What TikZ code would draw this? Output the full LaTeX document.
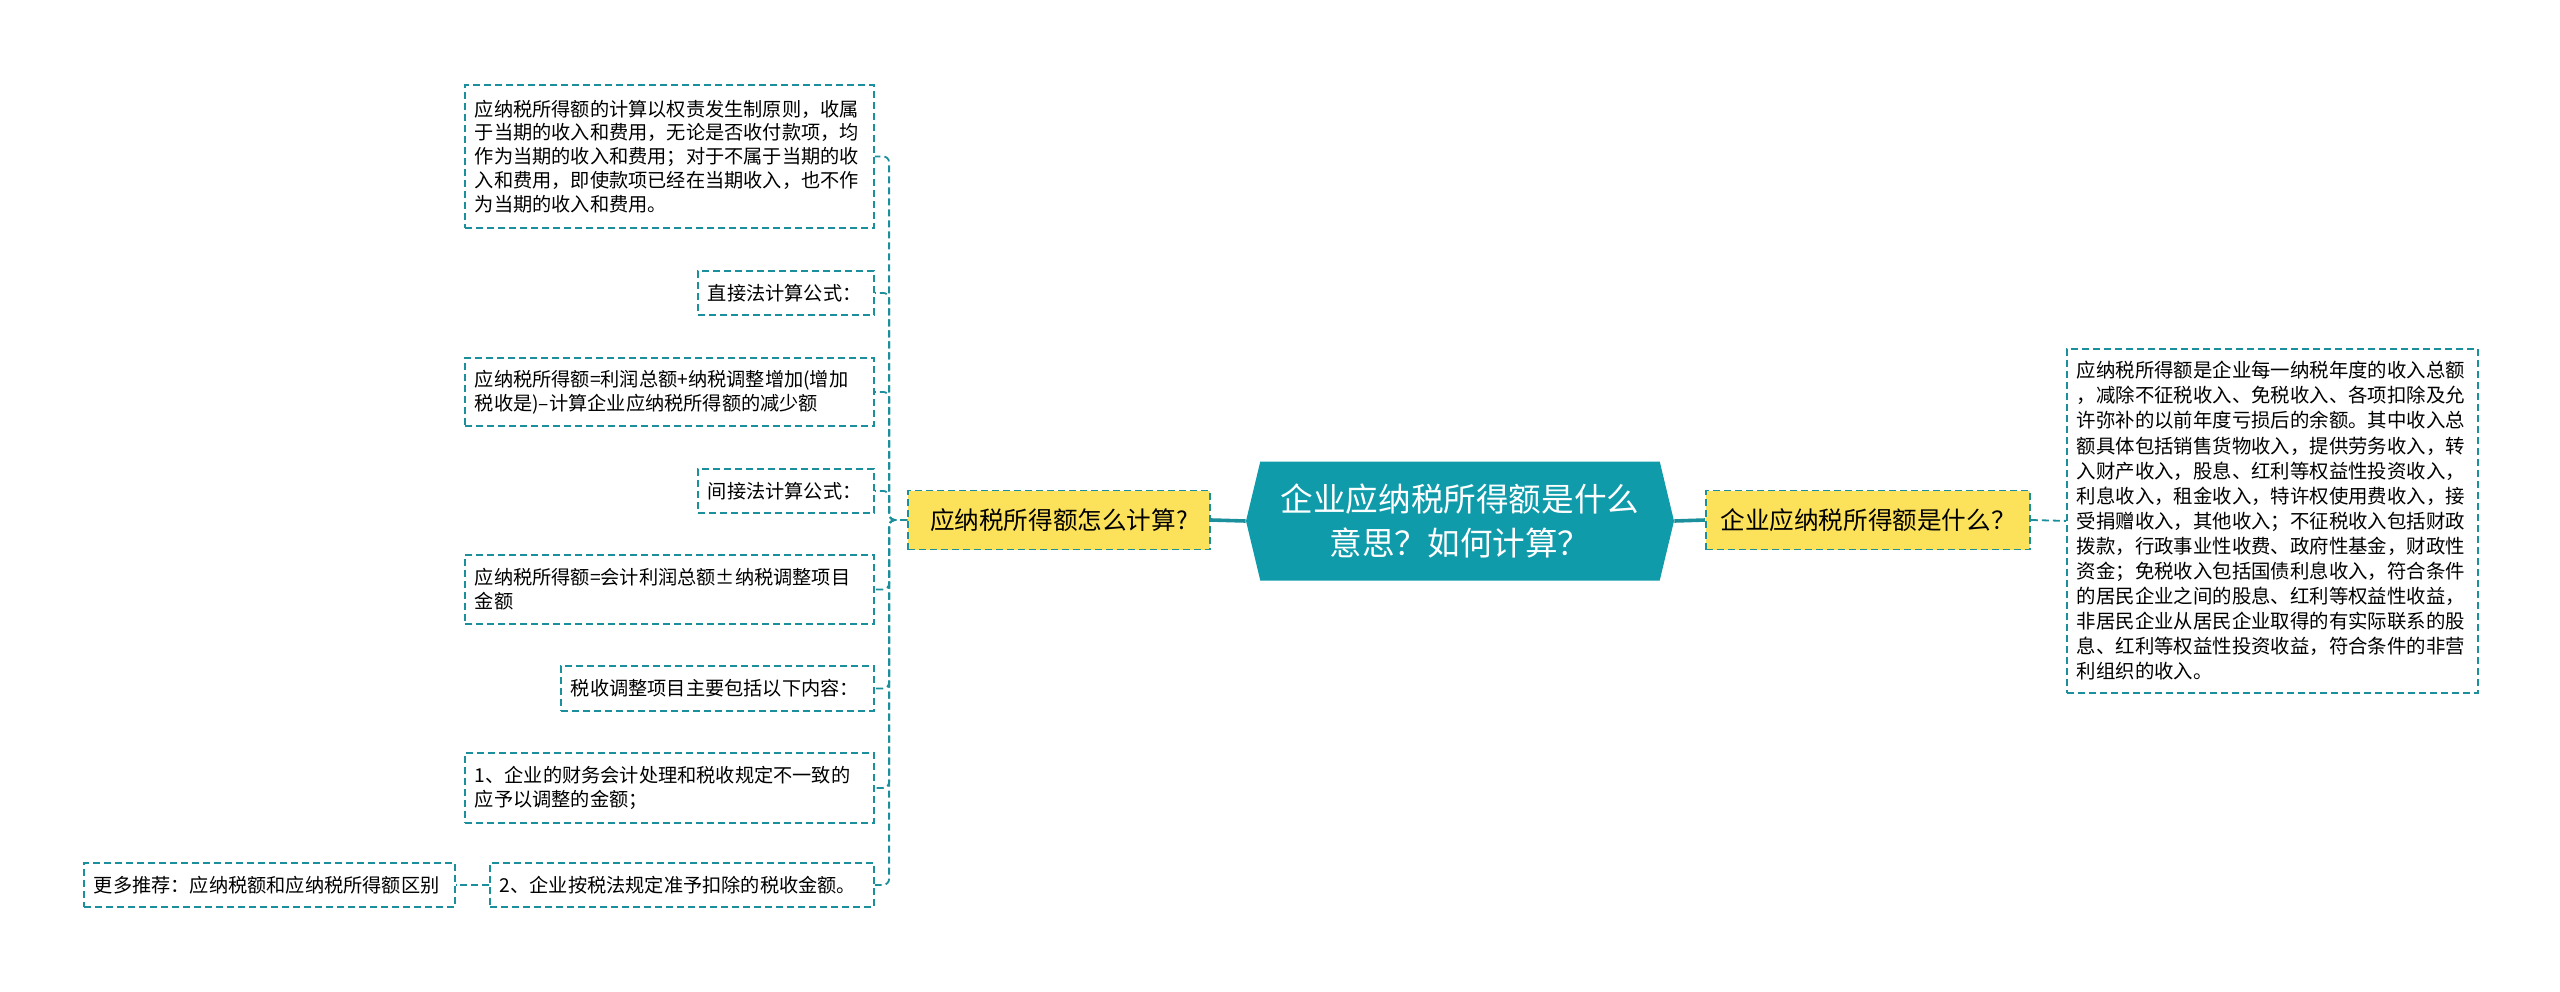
\documentclass[tikz,border=0pt]{standalone}
\usepackage{fontspec}
\setmainfont{Noto Sans CJK SC}
\usepackage{xcolor}
\usepackage{tikz}
\usetikzlibrary{shapes.symbols, positioning}
\definecolor{mapteal}{HTML}{1B8F9C}
\definecolor{rootteal}{HTML}{0F9BAA}
\definecolor{mapyellow}{HTML}{FCE15B}

\begin{document}
\begin{tikzpicture}[x=0.5pt, y=-0.5pt]
\tikzstyle{leaf} = [rectangle, draw=mapteal, dash pattern=on 3.5pt off 2pt, line width=0.9pt, anchor=north west, align=left, inner xsep=5pt, inner ysep=0pt, font=\fontsize{9.6}{11.9}\selectfont]
\tikzstyle{topic} = [rectangle, draw=mapteal, fill=mapyellow, dash pattern=on 3.5pt off 2pt, line width=0.9pt, minimum height=29.5pt, text centered, font=\fontsize{12.3}{15}\selectfont]
\tikzstyle{root} = [signal, signal to=west and east, signal pointer angle=153, fill=rootteal, text=white, minimum width=214pt, minimum height=59.5pt, align=center, font=\fontsize{16.3}{22}\selectfont]
\tikzstyle{branch} = [draw=mapteal, line width=1.8pt]
\tikzstyle{link} = [draw=mapteal, dash pattern=on 3.5pt off 2pt, line width=0.9pt, rounded corners=3pt]

\useasboundingbox (0,0) rectangle (2560,991);

\node (root) [root] at (1460,521) {企业应纳税所得额是什么\\意思？如何计算？};
\node (lq) [topic, minimum width=151pt] at (1059,520) {应纳税所得额怎么计算?};
\node (rq) [topic, minimum width=162pt] at (1868,520) {企业应纳税所得额是什么？};

\node (rb) [leaf, text width=195.5pt, minimum height=172pt, font=\fontsize{9.7}{12.55}\selectfont] at (2066,348) {应纳税所得额是企业每一纳税年度的收入总额\\，减除不征税收入、免税收入、各项扣除及允\\许弥补的以前年度亏损后的余额。其中收入总\\额具体包括销售货物收入，提供劳务收入，转\\入财产收入，股息、红利等权益性投资收入，\\利息收入，租金收入，特许权使用费收入，接\\受捐赠收入，其他收入；不征税收入包括财政\\拨款，行政事业性收费、政府性基金，财政性\\资金；免税收入包括国债利息收入，符合条件\\的居民企业之间的股息、红利等权益性收益，\\非居民企业从居民企业取得的有实际联系的股\\息、红利等权益性投资收益，符合条件的非营\\利组织的收入。};

\node (b1) [leaf, text width=194.5pt, minimum height=71.5pt] at (464,84) {应纳税所得额的计算以权责发生制原则，收属\\于当期的收入和费用，无论是否收付款项，均\\作为当期的收入和费用；对于不属于当期的收\\入和费用，即使款项已经在当期收入，也不作\\为当期的收入和费用。};
\node (b2) [leaf, text width=78pt, minimum height=22pt] at (697,270) {直接法计算公式：};
\node (b3) [leaf, text width=194.5pt, minimum height=34pt] at (464,357) {应纳税所得额=利润总额+纳税调整增加(增加\\税收是)–计算企业应纳税所得额的减少额};
\node (b4) [leaf, text width=78pt, minimum height=22pt] at (697,468) {间接法计算公式：};
\node (b5) [leaf, text width=194.5pt, minimum height=34.5pt] at (464,554) {应纳税所得额=会计利润总额±纳税调整项目\\金额};
\node (b6) [leaf, text width=146.5pt, minimum height=22.5pt] at (560,665) {税收调整项目主要包括以下内容：};
\node (b7) [leaf, text width=194.5pt, minimum height=35pt] at (464,752) {1、企业的财务会计处理和税收规定不一致的\\应予以调整的金额；};
\node (b8) [leaf, text width=182pt, minimum height=22pt] at (489,862) {2、企业按税法规定准予扣除的税收金额。};
\node (b9) [leaf, text width=175.5pt, minimum height=22pt] at (83,862) {更多推荐：应纳税额和应纳税所得额区别};

\draw [branch] (root.west) -- (lq.east);
\draw [branch] (root.east) -- (rq.west);
\draw [link] (rq.east) -- (rb.west);
\draw [link] (lq.west) -- ++(-9pt,0) |- (b1.east);
\draw [link] (lq.west) -- ++(-9pt,0) |- (b2.east);
\draw [link] (lq.west) -- ++(-9pt,0) |- (b3.east);
\draw [link] (lq.west) -- ++(-9pt,0) |- (b4.east);
\draw [link] (lq.west) -- ++(-9pt,0) |- (b5.east);
\draw [link] (lq.west) -- ++(-9pt,0) |- (b6.east);
\draw [link] (lq.west) -- ++(-9pt,0) |- (b7.east);
\draw [link] (lq.west) -- ++(-9pt,0) |- (b8.east);
\draw [link] (b8.west) -- (b9.east);
\end{tikzpicture}
\end{document}
